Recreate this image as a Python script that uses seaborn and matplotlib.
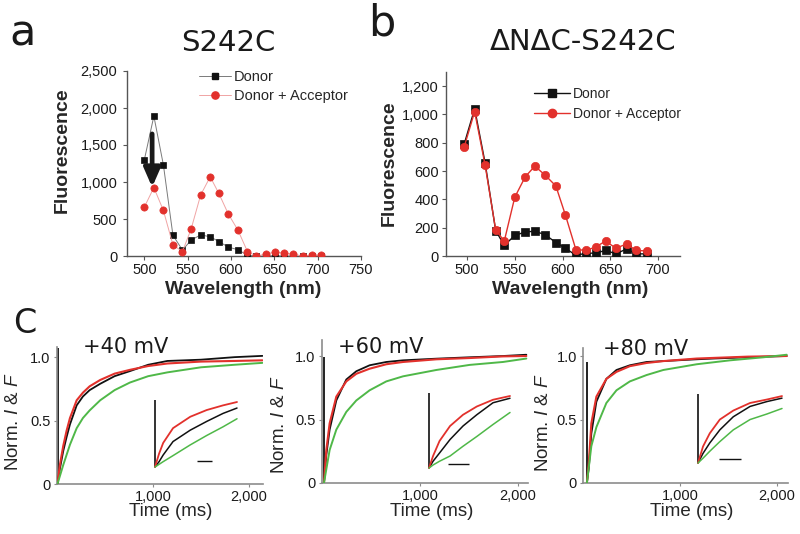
import matplotlib
matplotlib.use("Agg")
import matplotlib.pyplot as plt
import seaborn as sns
from matplotlib.lines import Line2D
from matplotlib.ticker import FuncFormatter

# figure size in pixels (dpi 100)
W, H = 800, 534

# --- a: S242C emission spectra ---
wl_a = [500, 511, 522, 533, 544, 554, 565, 576, 586, 597, 608, 619, 629, 640, 651, 661, 672, 683, 693, 704]
donor_a = [1300, 1890, 1230, 280, 80, 215, 285, 260, 195, 120, 85, 10, 0, 0, 5, 0, 0, 0, 0, 0]
donor_acc_a = [660, 925, 615, 150, 60, 365, 825, 1070, 845, 565, 350, 60, 0, 25, 55, 40, 25, 0, 10, 15]
arrow_x = 509
arrow_from = 1650
arrow_to = 930

# --- b: dNdC-S242C emission spectra ---
wl_b = [497, 508, 519, 530, 539, 550, 561, 571, 582, 593, 603, 614, 625, 635, 645, 656, 667, 677, 688]
donor_b = [790, 1040, 655, 180, 75, 145, 170, 175, 150, 95, 55, 5, 20, 20, 40, 15, 50, 15, 15]
donor_acc_b = [770, 1020, 640, 185, 105, 415, 560, 635, 570, 495, 290, 45, 40, 65, 105, 55, 85, 40, 35]

# --- c: normalized current (black), fluorescence (red, green) ---
voltages = ["+40 mV", "+60 mV", "+80 mV"]

t_40 = [5, 30, 65, 100, 135, 205, 270, 340, 450, 600, 760, 950, 1150, 1500, 1850, 2140]
cur_40 = [0, 0.12, 0.26, 0.37, 0.47, 0.62, 0.69, 0.74, 0.79, 0.85, 0.89, 0.94, 0.97, 0.98, 1.0, 1.01]
red_40 = [0, 0.15, 0.30, 0.42, 0.52, 0.66, 0.72, 0.77, 0.82, 0.87, 0.90, 0.93, 0.95, 0.965, 0.97, 0.975]
tg_40 = [5, 65, 135, 205, 270, 340, 450, 600, 760, 950, 1150, 1500, 1850, 2140]
green_40 = [0, 0.15, 0.31, 0.44, 0.52, 0.58, 0.66, 0.74, 0.80, 0.85, 0.88, 0.92, 0.94, 0.955]

t_60 = [20, 44, 78, 146, 248, 350, 486, 656, 827, 1167, 1507, 1847, 2085]
cur_60 = [0, 0.22, 0.42, 0.65, 0.815, 0.88, 0.927, 0.953, 0.966, 0.979, 0.99, 1.0, 1.01]
red_60 = [0, 0.26, 0.47, 0.68, 0.80, 0.86, 0.90, 0.935, 0.953, 0.974, 0.984, 0.997, 1.0]
tg_60 = [20, 78, 146, 248, 350, 486, 656, 827, 1167, 1507, 1847, 2085]
green_60 = [0, 0.26, 0.42, 0.56, 0.65, 0.73, 0.80, 0.84, 0.89, 0.93, 0.953, 0.98]

t_80 = [40, 60, 86, 138, 241, 345, 483, 655, 828, 1172, 1345, 1700, 2100]
cur_80 = [0, 0.12, 0.39, 0.64, 0.82, 0.89, 0.927, 0.953, 0.96, 0.974, 0.98, 0.99, 1.0]
red_80 = [0, 0.16, 0.47, 0.68, 0.82, 0.875, 0.92, 0.945, 0.96, 0.98, 0.985, 0.995, 1.0]
tg_80 = [40, 86, 138, 241, 345, 483, 655, 828, 1172, 1517, 1862, 2100]
green_80 = [0, 0.29, 0.44, 0.63, 0.73, 0.80, 0.85, 0.89, 0.935, 0.966, 0.99, 1.01]

# capacitive spike of the current trace: time (ms), height
spike_t = [14, 20, 45]
spike_h = [1.07, 0.99, 0.95]

# insets (normalized time / amplitude of the first part of each trace)
ins_x40 = [0, 0.05, 0.1, 0.22, 0.43, 0.63, 0.83, 1.0]
ins_red40 = [0, 0.2, 0.36, 0.58, 0.75, 0.85, 0.92, 0.97]
ins_cur40 = [0, 0.08, 0.18, 0.38, 0.55, 0.68, 0.80, 0.88]
ins_green40 = [0, 0.04, 0.08, 0.17, 0.33, 0.47, 0.60, 0.72]

ins_x60 = [0, 0.05, 0.13, 0.26, 0.42, 0.59, 0.79, 1.0]
ins_red60 = [0, 0.16, 0.36, 0.56, 0.71, 0.82, 0.91, 0.96]
ins_cur60 = [0, 0.09, 0.2, 0.38, 0.56, 0.71, 0.87, 0.93]
ins_green60 = [0, 0.04, 0.09, 0.16, 0.29, 0.42, 0.58, 0.74]

ins_x80 = [0, 0.06, 0.14, 0.26, 0.42, 0.62, 0.82, 1.0]
ins_red80 = [0, 0.24, 0.43, 0.63, 0.76, 0.87, 0.92, 0.97]
ins_cur80 = [0, 0.14, 0.29, 0.48, 0.67, 0.82, 0.89, 0.94]
ins_green80 = [0, 0.07, 0.17, 0.31, 0.48, 0.63, 0.71, 0.79]

# scale bars inside the insets: x start, x end, y
bar_x0 = [0.51, 0.24, 0.25]
bar_x1 = [0.70, 0.49, 0.51]
bar_y = [0.09, 0.06, 0.06]

BLACK = "#111111"
RED = "#e2312c"
GREEN = "#4fb848"
SPINE = "#555555"
SPINE_C = "#8c8c8c"

sns.set_theme(style="ticks")
plt.rcParams["font.family"] = ["Liberation Sans", "DejaVu Sans"]
plt.rcParams["mathtext.fontset"] = "custom"
plt.rcParams["mathtext.it"] = "Liberation Sans:italic"
plt.rcParams["mathtext.rm"] = "Liberation Sans"

fig = plt.figure(figsize=(W / 100, H / 100), dpi=100)
fig.patch.set_facecolor("white")


def fpos(left, top, right, bottom):
    return [left / W, 1 - bottom / H, (right - left) / W, (bottom - top) / H]


def fxy(x, y):
    return x / W, 1 - y / H


def style_axes(ax, color, lw=1.0):
    sns.despine(ax=ax)
    for s in ["left", "bottom"]:
        ax.spines[s].set_color(color)
        ax.spines[s].set_linewidth(lw)
    ax.tick_params(colors=color, labelcolor="#1a1a1a", length=3, width=0.8,
                   labelsize=10.5, direction="out")
    ax.set_facecolor("white")
    ax.grid(False)


comma = FuncFormatter(lambda v, p: f"{v:,.0f}")
title_font = dict(family=["DejaVu Sans"], weight="normal", color="#1a1a1a")

# ---------------- panel a ----------------
ax_a = fig.add_axes(fpos(127, 71, 361, 256))
sns.lineplot(x=wl_a, y=donor_a, ax=ax_a, estimator=None, color="#7a7a7a", lw=0.7,
             marker="s", ms=4.5, mfc=BLACK, mec=BLACK, mew=0.5, zorder=3)
sns.lineplot(x=wl_a, y=donor_acc_a, ax=ax_a, estimator=None, color="#f0a4a4", lw=0.7,
             marker="o", ms=5.2, mfc=RED, mec=RED, mew=0.5, zorder=4)
ax_a.annotate("", xy=(arrow_x, arrow_to), xytext=(arrow_x, arrow_from),
              arrowprops=dict(arrowstyle="-|>,head_width=0.35,head_length=0.8",
                              lw=3.4, color="#1a1a1a", shrinkA=0, shrinkB=0,
                              mutation_scale=14), zorder=6)
ax_a.set_xlim(480, 750)
ax_a.set_ylim(0, 2500)
ax_a.set_xticks(range(500, 751, 50))
ax_a.set_yticks(range(0, 2501, 500))
ax_a.yaxis.set_major_formatter(comma)
style_axes(ax_a, SPINE)
ax_a.tick_params(axis="y", pad=4)
ax_a.tick_params(axis="x", pad=2)
hand_a = [Line2D([], [], color="#7a7a7a", lw=0.7, marker="s", ms=4.5, mfc=BLACK, mec=BLACK),
          Line2D([], [], color="#f0a4a4", lw=0.7, marker="o", ms=5.2, mfc=RED, mec=RED)]
ax_a.legend(hand_a, ["Donor", "Donor + Acceptor"], loc="upper left",
            bbox_to_anchor=fxy(199, 70), bbox_transform=fig.transFigure,
            frameon=False, fontsize=10.5, handlelength=2.2, handletextpad=0.2,
            labelspacing=0.35, borderpad=0, borderaxespad=0)
ax_a.set_ylabel("Fluorescence", fontsize=14, fontweight="bold")
ax_a.yaxis.set_label_coords(*fxy(62, 150), transform=fig.transFigure)
ax_a.yaxis.label.set_va("center")
ax_a.set_xlabel("Wavelength (nm)", fontsize=14, fontweight="bold")
ax_a.xaxis.set_label_coords(*fxy(243, 289), transform=fig.transFigure)
ax_a.xaxis.label.set_va("center")

# ---------------- panel b ----------------
ax_b = fig.add_axes(fpos(446, 72, 680, 256))
sns.lineplot(x=wl_b, y=donor_b, ax=ax_b, estimator=None, color=BLACK, lw=1.0,
             marker="s", ms=5.4, mfc=BLACK, mec=BLACK, mew=0.5, zorder=3)
sns.lineplot(x=wl_b, y=donor_acc_b, ax=ax_b, estimator=None, color=RED, lw=1.0,
             marker="o", ms=6.0, mfc=RED, mec=RED, mew=0.5, zorder=4)
ax_b.set_xlim(478, 723)
ax_b.set_ylim(0, 1300)
ax_b.set_xticks(range(500, 701, 50))
ax_b.set_yticks(range(0, 1201, 200))
ax_b.yaxis.set_major_formatter(comma)
style_axes(ax_b, SPINE)
ax_b.tick_params(axis="y", pad=2)
ax_b.tick_params(axis="x", pad=2)
hand_b = [Line2D([], [], color=BLACK, lw=1.0, marker="s", ms=5.4, mfc=BLACK, mec=BLACK),
          Line2D([], [], color=RED, lw=1.0, marker="o", ms=6.0, mfc=RED, mec=RED)]
ax_b.legend(hand_b, ["Donor", "Donor + Acceptor"], loc="upper left",
            bbox_to_anchor=fxy(534, 87), bbox_transform=fig.transFigure,
            frameon=False, fontsize=10, handlelength=2.6, handletextpad=0.2,
            labelspacing=0.45, borderpad=0, borderaxespad=0)
ax_b.set_ylabel("Fluorescence", fontsize=14, fontweight="bold")
ax_b.yaxis.set_label_coords(*fxy(389, 163), transform=fig.transFigure)
ax_b.yaxis.label.set_va("center")
ax_b.set_xlabel("Wavelength (nm)", fontsize=14, fontweight="bold")
ax_b.xaxis.set_label_coords(*fxy(570, 289), transform=fig.transFigure)
ax_b.xaxis.label.set_va("center")

# ---------------- panel c ----------------
c_boxes = [(57, 347, 263, 484), (322, 340, 528, 483), (583, 348, 788, 483)]
c_ylim = [1.08, 1.126, 1.063]
c_xlim = [2146, 2102, 2113]
c_traces = [(t_40, cur_40, red_40, tg_40, green_40),
            (t_60, cur_60, red_60, tg_60, green_60),
            (t_80, cur_80, red_80, tg_80, green_80)]
c_insets = [(ins_x40, ins_cur40, ins_red40, ins_green40),
            (ins_x60, ins_cur60, ins_red60, ins_green60),
            (ins_x80, ins_cur80, ins_red80, ins_green80)]
inset_boxes = [(155, 400, 237, 467), (429, 393, 510, 468), (698, 394, 782, 463)]
ylab_pos = [(14, 422), (280, 425), (543, 423)]
xlab_pos = [(171, 512), (432, 512), (692, 512)]
volt_pos = [(83, 347), (338, 347), (603, 349)]

for i in range(3):
    ax = fig.add_axes(fpos(*c_boxes[i]))
    t, cur, red, tg, green = c_traces[i]
    ax.vlines(spike_t[i], 0, spike_h[i], color=BLACK, lw=1.3, zorder=2)
    sns.lineplot(x=t, y=cur, ax=ax, estimator=None, sort=False, color=BLACK, lw=1.3, zorder=3)
    sns.lineplot(x=t, y=red, ax=ax, estimator=None, sort=False, color=RED, lw=1.5, zorder=4)
    sns.lineplot(x=tg, y=green, ax=ax, estimator=None, sort=False, color=GREEN, lw=1.4, zorder=5)
    ax.set_xlim(0, c_xlim[i])
    ax.set_ylim(0, c_ylim[i])
    ax.set_xticks([1000, 2000])
    ax.xaxis.set_major_formatter(comma)
    ax.set_yticks([0, 0.5, 1.0])
    ax.set_yticklabels(["0", "0.5", "1.0"])
    style_axes(ax, SPINE_C, lw=1.2)
    ax.tick_params(length=2.5, pad=2)
    ax.set_ylabel("Norm. $I$ & $F$", fontsize=13.5)
    ax.yaxis.set_label_coords(*fxy(*ylab_pos[i]), transform=fig.transFigure)
    ax.yaxis.label.set_va("center")
    ax.set_xlabel("Time (ms)", fontsize=13.5)
    ax.xaxis.set_label_coords(*fxy(*xlab_pos[i]), transform=fig.transFigure)
    ax.xaxis.label.set_va("center")
    fig.text(*fxy(*volt_pos[i]), voltages[i], fontsize=15, ha="left", va="center",
             **title_font)

    # inset with the rising phase
    ins = fig.add_axes(fpos(*inset_boxes[i]))
    ins.set_axis_off()
    ix, icur, ired, igreen = c_insets[i]
    ins.vlines(0, 0, 1, color=BLACK, lw=1.2)
    sns.lineplot(x=ix, y=icur, ax=ins, estimator=None, sort=False, color=BLACK, lw=1.1)
    sns.lineplot(x=ix, y=ired, ax=ins, estimator=None, sort=False, color=RED, lw=1.3)
    sns.lineplot(x=ix, y=igreen, ax=ins, estimator=None, sort=False, color=GREEN, lw=1.1)
    ins.hlines(bar_y[i], bar_x0[i], bar_x1[i], color=BLACK, lw=1.0)
    ins.set_xlim(0, 1)
    ins.set_ylim(0, 1)
    for ln in ins.lines + ins.collections:
        ln.set_clip_on(False)

# panel letters and titles
fig.text(*fxy(9, 46), "a", fontsize=31, ha="left", va="baseline", **title_font)
fig.text(*fxy(368, 36), "b", fontsize=31, ha="left", va="baseline", **title_font)
fig.text(*fxy(13, 333), "C", fontsize=24, ha="left", va="baseline", **title_font)
fig.text(*fxy(228, 43), "S242C", fontsize=21, ha="center", va="center", **title_font)
fig.text(*fxy(583, 42), "\u0394N\u0394C-S242C", fontsize=21, ha="center", va="center",
         **title_font)

fig.savefig("out.png", dpi=100, facecolor="white")
